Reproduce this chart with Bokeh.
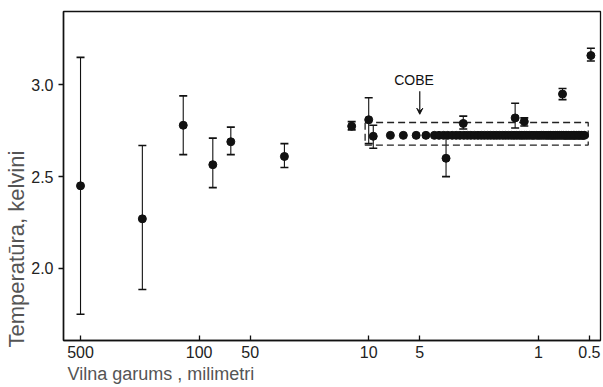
from bokeh.plotting import figure
from bokeh.models import (ColumnDataSource, Range1d, FixedTicker, Whisker, TeeHead,
                          Label, Arrow, VeeHead, Title)
from bokeh.embed import file_html
from bokeh.resources import INLINE

# ---- data ----
wavelength_mm = [500, 216, 124, 83, 65, 31.4, 12.6, 10.0, 9.4, 3.5, 2.77, 1.37, 1.21, 0.72, 0.49]
temperature_k = [2.45, 2.27, 2.78, 2.565, 2.69, 2.61, 2.775, 2.81, 2.72, 2.60, 2.79, 2.82, 2.80, 2.95, 3.16]
temp_lower = [1.75, 1.885, 2.62, 2.44, 2.62, 2.55, 2.755, 2.68, 2.655, 2.50, 2.76, 2.765, 2.776, 2.92, 3.13]
temp_upper = [3.15, 2.67, 2.94, 2.71, 2.77, 2.68, 2.80, 2.93, 2.78, 2.71, 2.83, 2.90, 2.82, 2.98, 3.20]

cobe_wavelength_mm = [7.45, 6.25, 5.25, 4.6, 4.1, 3.85, 3.62, 3.42, 3.22, 3.05, 2.9, 2.75,
                      2.62, 2.5, 2.38, 2.27, 2.17, 2.08, 1.99, 1.91, 1.83, 1.76, 1.69, 1.62,
                      1.56, 1.5, 1.44, 1.39, 1.34, 1.29, 1.25, 1.21, 1.17, 1.13, 1.09, 1.06,
                      1.02, 0.99, 0.96, 0.93, 0.9, 0.875, 0.85, 0.83, 0.81, 0.79, 0.77, 0.75,
                      0.73, 0.71, 0.695, 0.68, 0.665, 0.65, 0.635, 0.62, 0.61, 0.595, 0.58,
                      0.57, 0.555, 0.545, 0.535]
cobe_temperature_k = 2.725
cobe_box = dict(left=10.5, right=0.508, top=2.795, bottom=2.672)
cobe_arrow = dict(x=5.0, y_start=2.965, y_end=2.84)
cobe_label = dict(x=5.4, y=3.027, text="COBE")

x_ticks = [500, 100, 50, 10, 5, 1, 0.5]
x_tick_labels = ["500", "100", "50", "10", "5", "1", "0.5"]
y_ticks = [2.0, 2.5, 3.0]
y_tick_labels = ["2.0", "2.5", "3.0"]

x_label = "Vilna garums , milimetri"
y_label = "Temperatūra, kelvini"

FONT = "Liberation Sans"

p = figure(width=603, height=387, x_axis_type="log",
           x_range=Range1d(630, 0.43), y_range=Range1d(1.607, 3.40),
           output_backend="svg", toolbar_location=None,
           min_border_left=63, min_border_right=3, min_border_top=11, min_border_bottom=47)
p.background_fill_color = "white"
p.border_fill_color = "white"
p.outline_line_color = "#111111"
p.outline_line_width = 1.3
p.grid.visible = False

# axes
xa = p.xaxis[0]
xa.ticker = FixedTicker(ticks=x_ticks)
xa.major_label_overrides = {t: l for t, l in zip(x_ticks, x_tick_labels)}
xa.major_tick_in = 5
xa.major_tick_out = 0
xa.minor_tick_line_color = None
xa.major_label_standoff = 5

ya = p.yaxis[0]
ya.ticker = FixedTicker(ticks=y_ticks)
ya.major_label_overrides = {t: l for t, l in zip(y_ticks, y_tick_labels)}
ya.major_tick_in = 0
ya.major_tick_out = 5
ya.minor_tick_line_color = None
ya.major_label_standoff = 5

for ax in (xa, ya):
    ax.axis_line_color = "#111111"
    ax.axis_line_width = 1.5
    ax.major_tick_line_color = "#111111"
    ax.major_tick_line_width = 1.3
    ax.major_label_text_font = FONT
    ax.major_label_text_font_size = "16px"
    ax.major_label_text_color = "#222222"

# COBE box
p.quad(left=[cobe_box["left"]], right=[cobe_box["right"]], top=[cobe_box["top"]],
       bottom=[cobe_box["bottom"]], fill_color=None, line_color="#222222",
       line_width=1.3, line_dash="7 4")

# COBE points
p.scatter(x=cobe_wavelength_mm, y=[cobe_temperature_k] * len(cobe_wavelength_mm),
          size=8, color="#111111")

# measurements with error bars
src = ColumnDataSource(dict(x=wavelength_mm, y=temperature_k, lower=temp_lower, upper=temp_upper))
w = Whisker(base="x", upper="upper", lower="lower", source=src, dimension="height",
            line_color="#111111", line_width=1.1,
            upper_head=TeeHead(size=8, line_width=1.6, line_color="#111111"),
            lower_head=TeeHead(size=8, line_width=1.6, line_color="#111111"))
p.add_layout(w)
p.scatter("x", "y", source=src, size=8, color="#111111")

# COBE annotation
p.add_layout(Arrow(x_start=cobe_arrow["x"], y_start=cobe_arrow["y_start"],
                   x_end=cobe_arrow["x"], y_end=cobe_arrow["y_end"],
                   line_color="#111111", line_width=1.2,
                   end=VeeHead(size=6, fill_color="#111111", line_color="#111111")))
p.add_layout(Label(x=cobe_label["x"], y=cobe_label["y"], text=cobe_label["text"],
                   text_font=FONT, text_font_size="14px", text_color="#111111",
                   text_align="center", text_baseline="middle"))

# axis labels, placed like in the original (start-aligned)
p.add_layout(Title(text=y_label, align="left", offset=-7, standoff=0,
                   text_font=FONT, text_font_size="22px", text_font_style="normal",
                   text_color="#555555"), "left")
p.add_layout(Title(text=x_label, align="left", offset=4, standoff=3,
                   text_font=FONT, text_font_size="18px", text_font_style="normal",
                   text_color="#555555"), "below")

open("out.html", "w").write(file_html(p, INLINE))
